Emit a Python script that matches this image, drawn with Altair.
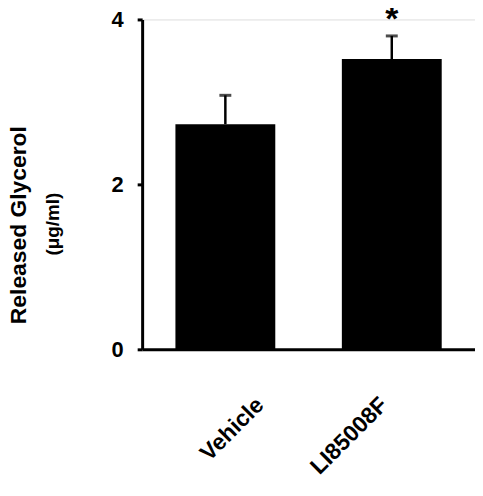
import altair as alt
import pandas as pd

categories = ["Vehicle", "LI85008F"]
means = [2.73, 3.52]
errors = [0.35, 0.28]
marks = ["", "*"]
y_title = "Released Glycerol"
y_unit = "(μg/ml)"
y_ticks = [0, 2, 4]

df = pd.DataFrame({
    "group": categories,
    "mean": means,
    "upper": [m + e for m, e in zip(means, errors)],
    "sig": marks,
})

FONT = "Liberation Sans"

x_enc = alt.X(
    "group:N",
    sort=categories,
    scale=alt.Scale(paddingInner=0.4, paddingOuter=0.2),
    axis=alt.Axis(
        title=None,
        labelAngle=-45,
        labelFont=FONT,
        labelFontSize=23,
        labelFontWeight="bold",
        labelColor="black",
        labelAlign="right",
        labelBaseline="middle",
        labelPadding=52,
        labelOffset={"condition": {"test": "datum.value == 'Vehicle'", "value": 35}, "value": -8},
        ticks=False,
        domainColor="black",
        domainWidth=3,
    ),
)

y_scale = alt.Scale(domain=[0, 4], nice=False)
y_axis = alt.Axis(
    title=None,
    values=y_ticks,
    format="d",
    labelFont=FONT,
    labelFontSize=22,
    labelFontWeight="bold",
    labelColor="black",
    labelPadding=14,
    tickSize=5,
    tickWidth=3,
    tickColor="black",
    domainColor="black",
    domainWidth=3,
    grid=False,
)

base = alt.Chart(df)

bars = base.mark_bar(color="black").encode(
    x=x_enc,
    y=alt.Y("mean:Q", scale=y_scale, axis=y_axis),
)

err_line = base.mark_rule(color="black", strokeWidth=2.5).encode(
    x=alt.X("group:N", sort=categories),
    y="mean:Q",
    y2="upper:Q",
)

err_cap = base.mark_tick(color="black", size=12, thickness=3).encode(
    x=alt.X("group:N", sort=categories),
    y="upper:Q",
)

stars = base.mark_text(
    font=FONT, fontSize=34, fontWeight="bold", color="black",
    baseline="alphabetic", dy=-6,
).encode(
    x=alt.X("group:N", sort=categories),
    y="upper:Q",
    text="sig:N",
)

title_df = pd.DataFrame({"t": [y_title], "u": [y_unit]})
title_txt = alt.Chart(title_df).mark_text(
    font=FONT, fontSize=23, fontWeight="bold", color="black",
    angle=270, align="center", baseline="middle",
).encode(x=alt.value(-124), y=alt.value(207), text="t:N")

unit_txt = alt.Chart(title_df).mark_text(
    font=FONT, fontSize=19, fontWeight="bold", color="black",
    angle=270, align="center", baseline="middle",
).encode(x=alt.value(-90), y=alt.value(206), text="u:N")

chart = alt.layer(bars, err_line, err_cap, stars, title_txt, unit_txt).properties(
    width=335,
    height=332,
    autosize=alt.AutoSizeParams(type="none"),
    padding={"left": 135, "top": 10, "right": 0, "bottom": 130},
).configure_view(stroke=None).configure(background="white")

chart.save("out.html", embed_options={"renderer": "svg", "actions": False})
